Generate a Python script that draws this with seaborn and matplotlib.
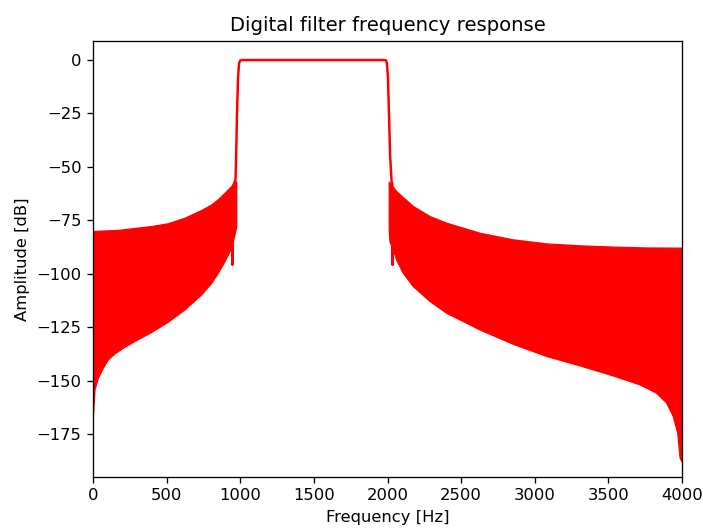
import numpy as np
import pandas as pd
import matplotlib
matplotlib.use("Agg")
import matplotlib.pyplot as plt
import seaborn as sns

# Left stopband envelope
left_up_freq = [0, 2, 172, 398, 511, 625, 738, 806, 851, 897, 942, 966, 976]
left_up_db = [-80.2, -80.2, -79.7, -77.9, -76.6, -74.0, -70.4, -67.8, -65.4, -62.3, -59.2, -57.5, -56.9]
left_lo_freq = [0, 2, 13.6, 36, 70, 104, 149, 217, 285, 398, 511, 625, 738, 806, 851, 897, 930, 953, 970, 976]
left_lo_db = [-166.7, -166.7, -154.2, -148.8, -144.1, -140.2, -137.4, -134.3, -131.6, -127.4, -122.6, -116.8,
              -109.8, -104.4, -99.7, -94.2, -89.6, -84.9, -80.0, -78.0]

# Right stopband envelope
right_up_freq = [2012, 2017, 2062, 2175, 2289, 2402, 2628, 2854, 3081, 3307, 3534, 3760, 4000]
right_up_db = [-57.0, -57.6, -61.5, -68.5, -73.2, -76.3, -81.0, -84.1, -86.0, -86.9, -87.5, -87.9, -88.0]
right_lo_freq = [2012, 2017, 2040, 2062, 2107, 2175, 2289, 2402, 2628, 2854, 3081, 3307, 3534, 3715, 3828,
                 3896, 3941, 3971, 3987, 4000]
right_lo_db = [-80.0, -85.0, -88.8, -93.5, -99.7, -105.9, -112.9, -118.4, -126.2, -132.9, -138.6, -143.0, -147.7,
               -151.9, -155.8, -160.4, -166.7, -174.5, -186.0, -188.0]

# Transition + passband trace
pass_freq = [944, 947, 950, 960, 968, 972, 978, 985, 992, 1000, 1010, 1980, 1990, 1996, 2003, 2010, 2018, 2028,
             2033, 2035, 2038]
pass_db = [-60.0, -95.8, -59.0, -57.5, -56.0, -45.0, -25.0, -8.0, -1.5, -0.2, 0.0, 0.0, -0.2, -1.5, -8.0, -25.0,
           -45.0, -57.0, -58.0, -95.8, -60.0]

sns.set_style("ticks")
plt.rcParams.update({"text.color": "black", "axes.labelcolor": "black",
                     "xtick.color": "black", "ytick.color": "black"})
S = 1.18
fig = plt.figure(figsize=(7.03, 5.31), dpi=100)
ax = fig.add_axes([93 / 703, 1 - 477 / 531, (682 - 93) / 703, (477 - 41) / 531])

red = "#ff0000"
ax.fill(left_up_freq + left_lo_freq[::-1], left_up_db + left_lo_db[::-1],
        color=red, linewidth=0.8 * S, edgecolor=red)
ax.fill(right_up_freq + right_lo_freq[::-1], right_up_db + right_lo_db[::-1],
        color=red, linewidth=0.8 * S, edgecolor=red)
df = pd.DataFrame({"freq": pass_freq, "db": pass_db})
sns.lineplot(data=df, x="freq", y="db", ax=ax, color=red, linewidth=1.5 * S, sort=False, estimator=None)

ax.set_xlim(0, 4000)
ax.set_ylim(-195, 8.9)
ax.set_xticks([0, 500, 1000, 1500, 2000, 2500, 3000, 3500, 4000])
ax.set_yticks([0, -25, -50, -75, -100, -125, -150, -175])
ax.set_xlabel("Frequency [Hz]", fontsize=10 * S, labelpad=4 * S)
ax.set_ylabel("Amplitude [dB]", fontsize=10 * S, labelpad=4 * S)
ax.set_title("Digital filter frequency response", fontsize=12 * S, pad=6 * S)
ax.tick_params(labelsize=10 * S, direction="out", length=3.5 * S, width=0.8 * S, color="black", pad=3.5 * S)
for s in ax.spines.values():
    s.set_color("black")
    s.set_linewidth(0.8 * S)
    s.set_visible(True)

fig.savefig("out.png", dpi=100)
